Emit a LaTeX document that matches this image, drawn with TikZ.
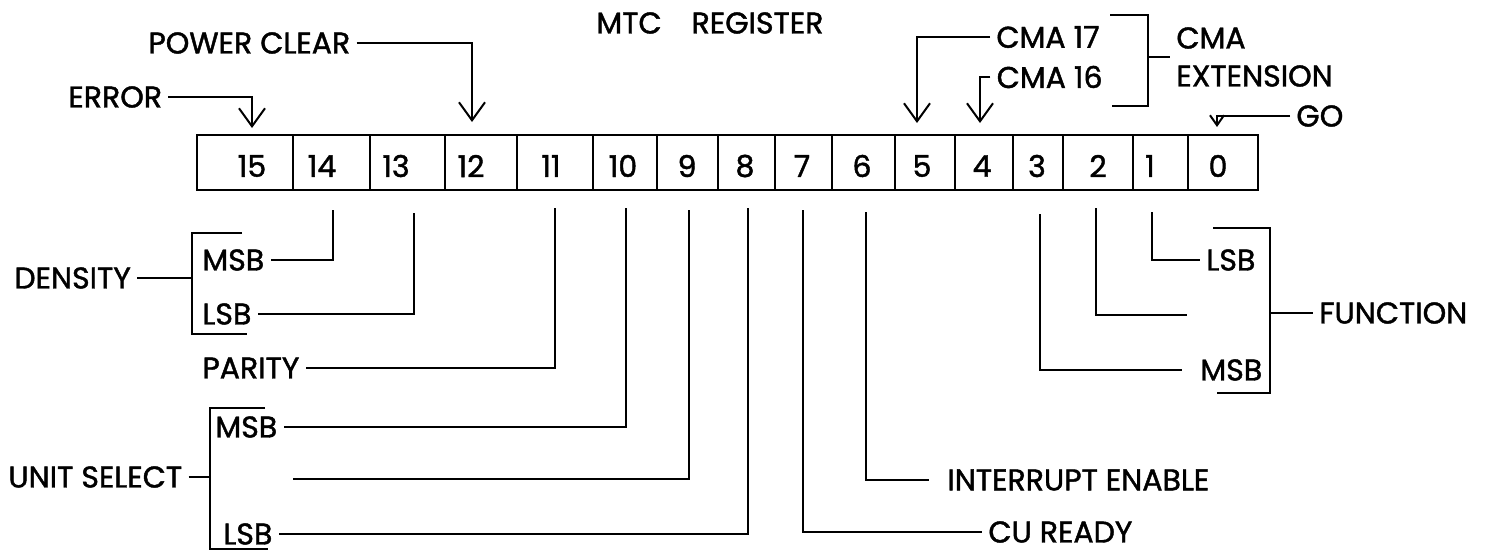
\documentclass[tikz,border=0pt]{standalone}
\usepackage{fontspec}
\setmainfont{Poppins}[FakeBold=1.4]
\usetikzlibrary{arrows.meta}

\begin{document}
\begin{tikzpicture}[x=0.5pt, y=-0.5pt,
    lbl/.style={font=\fontsize{15}{19}\selectfont, inner sep=3pt},
    wire/.style={line width=1pt},
    bitarrow/.style={wire, -{Straight Barb[length=9pt,width=13pt]}},
    smallarrow/.style={wire, -{Straight Barb[length=5pt,width=7pt]}}]

    \useasboundingbox (0,0) rectangle (1499,552);

    % --- Register box ---
    \draw[line width=1.2pt] (197,135) rectangle (1258,190);
    \foreach \x in {293,370,445,517,593,657,718,775,832,895,955,1013,1063,1133,1188}
        \draw[wire] (\x,135) -- (\x,190);
    \foreach \n/\x in {15/252,14/322,13/396,12/471,11/551,10/623,9/687,8/745,7/802,6/862,5/922,4/982,3/1037,2/1098,1/1150,0/1218}
        \node[lbl] (b\n) at (\x,166) {\n};

    \node[lbl, anchor=west] (title) at (590,23) {MTC\quad REGISTER};

    % --- Upper labels with arrows ---
    \node[lbl, anchor=west] (pwr) at (142,43) {POWER CLEAR};
    \node[lbl, anchor=west] (err) at (62,97) {ERROR};
    \node[lbl, anchor=east] (c17) at (1106,37) {CMA 17};
    \node[lbl, anchor=east] (c16) at (1109,77) {CMA 16};
    \node[lbl, anchor=west, align=left] (cext) at (1170,57) {CMA\\EXTENSION};
    \node[lbl, anchor=west] (go) at (1290,116) {GO};

    \coordinate (t12) at (472,122);
    \coordinate (t15) at (252,128);
    \coordinate (t5) at (917,123);
    \coordinate (t4) at (980,123);
    \coordinate (t0) at (1217,127);

    \draw[bitarrow] (pwr.east) -| (t12);
    \draw[bitarrow] (err.east) -| (t15);
    \draw[bitarrow] (c17.west) -| (t5);
    \draw[bitarrow] (c16.west) -| (t4);
    \draw[smallarrow] (go.west) -| (t0);

    % CMA extension bracket
    \coordinate (cbr) at (1148,57);
    \draw[wire] (1110,15) -- (1148,15) -- (1148,106) -- (1112,106);
    \draw[wire] (cbr) -- (cext.west);

    % --- Density (bits 14, 13) ---
    \node[lbl, anchor=west] (den) at (8,278) {DENSITY};
    \node[lbl, anchor=west] (dmsb) at (196,260) {MSB};
    \node[lbl, anchor=west] (dlsb) at (196,314) {LSB};
    \coordinate (dbr) at (192,278);
    \draw[wire] (242,233) -- (192,233) -- (192,334) -- (247,334);
    \draw[wire] (den.east) -- (dbr);
    \coordinate (d14) at (333,210);
    \coordinate (d13) at (414,213);
    \draw[wire] (d14) |- (dmsb.east);
    \draw[wire] (d13) |- (dlsb.east);

    % --- Parity (bit 11) ---
    \node[lbl, anchor=west] (par) at (196,368) {PARITY};
    \coordinate (d11) at (555,208);
    \draw[wire] (d11) |- (par.east);

    % --- Unit select (bits 10, 9, 8) ---
    \node[lbl, anchor=west] (us) at (2,477) {UNIT SELECT};
    \node[lbl, anchor=west] (umsb) at (209,427) {MSB};
    \node[lbl, anchor=west] (ulsb) at (217,534) {LSB};
    \coordinate (ubr) at (210,477);
    \coordinate (umid) at (293,479);
    \draw[wire] (265,408) -- (210,408) -- (210,549) -- (268,549);
    \draw[wire] (us.east) -- (ubr);
    \coordinate (d10) at (626,208);
    \coordinate (d9) at (689,210);
    \coordinate (d8) at (748,208);
    \draw[wire] (d10) |- (umsb.east);
    \draw[wire] (d9) |- (umid);
    \draw[wire] (d8) |- (ulsb.east);

    % --- CU ready, interrupt enable (bits 7, 6) ---
    \node[lbl, anchor=west] (cu) at (982,532) {CU READY};
    \node[lbl, anchor=west] (ie) at (941,480) {INTERRUPT ENABLE};
    \coordinate (d7) at (803,210);
    \coordinate (d6) at (866,212);
    \draw[line width=1.3pt] (d7) |- (cu.west);
    \draw[wire, shorten >=6pt] (d6) |- (ie.west);

    % --- Function (bits 3, 2, 1) ---
    \node[lbl, anchor=west] (fmsb) at (1194,370) {MSB};
    \node[lbl, anchor=west] (flsb) at (1200,260) {LSB};
    \node[lbl, anchor=west] (fn) at (1313,313) {FUNCTION};
    \coordinate (fbr) at (1270,313);
    \coordinate (fmid) at (1187,315);
    \draw[wire] (1213,228) -- (1270,228) -- (1270,393) -- (1217,393);
    \draw[wire] (fbr) -- (fn.west);
    \coordinate (d3) at (1040,214);
    \coordinate (d2) at (1096,208);
    \coordinate (d1) at (1152,212);
    \draw[wire, shorten >=6pt] (d3) |- (fmsb.west);
    \draw[wire] (d2) |- (fmid);
    \draw[wire] (d1) |- (flsb.west);

\end{tikzpicture}
\end{document}
